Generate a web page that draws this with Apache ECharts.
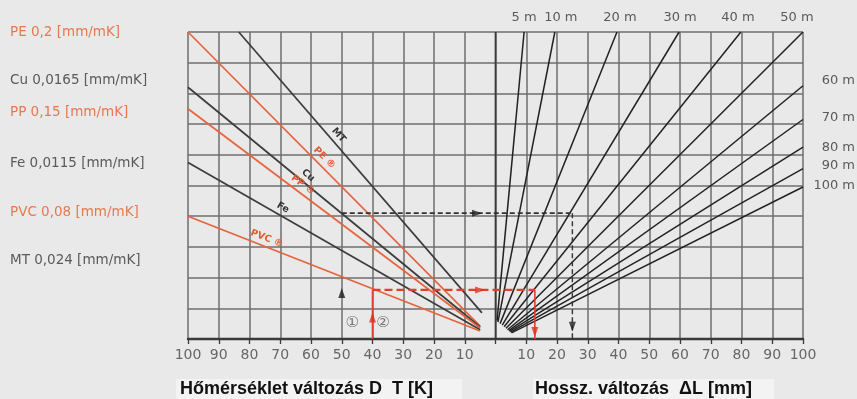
<!DOCTYPE html>
<html>
<head>
<meta charset="utf-8">
<script src="https://cdn.jsdelivr.net/npm/echarts@6/dist/echarts.min.js"></script>
<style>
  html, body { margin: 0; padding: 0; background: #e9e9e9; }
  #chart { width: 857px; height: 399px; }
</style>
</head>
<body>
<div id="chart"></div>
<script>
// Left half: temperature change ΔT (drawn on the negative side of the x axis)
// against elongation per metre of pipe (y, 0..20).
const materialNames   = ['MT', 'PE', 'Cu', 'PP', 'Fe', 'PVC'];
const materialTags    = ['MT', 'PE ®', 'Cu', 'PP ®', 'Fe', 'PVC ®'];
const materialPlastic = [false, true, false, true, false, true];
const materialStart   = [[-83.5, 20], [-100, 20], [-100, 16.4], [-100, 15], [-100, 11.5], [-100, 8]];
const materialEnd     = [[-4.4, 1.7], [-5, 0.84], [-5, 0.78], [-5, 0.72], [-5, 0.6], [-5, 0.52]];
const materialTagAt   = [-53, -57.5, -62.6, -64.2, -70.4, -75.3];

const coefficientTexts   = ['PE 0,2 [mm/mK]', 'Cu 0,0165 [mm/mK]', 'PP 0,15 [mm/mK]', 'Fe 0,0115 [mm/mK]', 'PVC 0,08 [mm/mK]', 'MT 0,024 [mm/mK]'];
const coefficientPlastic = [true, false, true, false, true, false];

// Right half: pipe length lines, elongation per metre -> total length change ΔL [mm]
const lengthNames = ['5 m', '10 m', '20 m', '30 m', '40 m', '50 m', '60 m', '70 m', '80 m', '90 m', '100 m'];
const lengthStart = [[0.5, 1.2], [0.8, 1.1], [1.5, 1.0], [2.2, 0.9], [2.8, 0.8], [3.4, 0.7], [3.9, 0.6], [4.3, 0.55], [4.6, 0.5], [4.9, 0.45], [5.2, 0.4]];
const lengthEnd   = [[9.3, 20], [19.3, 20], [39.5, 20], [59.7, 20], [79.8, 20], [100, 20], [100, 16.5], [100, 14.3], [100, 12.5], [100, 11.1], [100, 9.9]];

// Worked example 1 (Cu, 50 K, 30 m) and example 2 (PVC, 40 K, 40 m)
const example1Path = [[-50, 8.2], [25, 8.2]];
const example1Drop = [[25, 8.2], [25, 0]];
const example2Rise = [[-40, 0], [-40, 3.2]];
const example2Path = [[-40, 3.2], [12.8, 3.2]];
const example2Drop = [[12.8, 3.2], [12.8, 0]];
const example1Arrows = [[-50, 3.0, 0], [-6, 8.2, -90], [25, 0.8, 180]];
const example2Arrows = [[-40, 1.4, 0], [-5, 3.2, -90], [12.8, 0.45, 180]];
const exampleMarks = [['①', -46.6, 1.05], ['②', -36.6, 1.05]];

const axisTitles = ['Hőmérséklet változás D  T [K]', 'Hossz. változás  ΔL [mm]'];

const ORANGE = '#e4643c';
const ORANGE_TEXT = '#e8774f';
const DARK = '#3c3c3c';
const GRID = '#6e6e6e';
const TEXT_GREY = '#5a5a5a';
// small horizontal nudges for the top length labels, vertical for the right ones
const topLabelNudge = [0, 6, 3, 1, -3, -6];
const rightLabelNudge = [-5, -2, 0, -3, -1];

const chart = echarts.init(document.getElementById('chart'), null, { renderer: 'canvas' });

const series = [];

// centre divider (ΔT = 0 / ΔL = 0)
series.push({
  type: 'line', data: [[0, 0], [0, 20]], symbol: 'none', silent: true,
  lineStyle: { color: '#3a3a3a', width: 1.7 }, z: 3
});

materialNames.forEach((name, i) => {
  series.push({
    name: name, type: 'line', symbol: 'none', silent: true,
    data: [materialStart[i], materialEnd[i]],
    lineStyle: { color: materialPlastic[i] ? ORANGE : DARK, width: 1.7 }, z: 4
  });
});

lengthNames.forEach((name, i) => {
  series.push({
    name: name, type: 'line', symbol: 'none', silent: true,
    data: [lengthStart[i], lengthEnd[i]],
    lineStyle: { color: '#222', width: 1.5 }, z: 4
  });
});

// example 1: black dashed
series.push({ type: 'line', symbol: 'none', silent: true, data: example1Path, lineStyle: { color: '#333', width: 1.7, type: [5, 3] }, z: 6 });
series.push({ type: 'line', symbol: 'none', silent: true, data: example1Drop, lineStyle: { color: '#333', width: 1.4, type: [5, 3] }, z: 6 });
// example 2: red
series.push({ type: 'line', symbol: 'none', silent: true, data: example2Rise, lineStyle: { color: '#e0402a', width: 1.6 }, z: 6 });
series.push({ type: 'line', symbol: 'none', silent: true, data: example2Path, lineStyle: { color: '#e0402a', width: 2.2, type: [8, 4] }, z: 6 });
series.push({ type: 'line', symbol: 'none', silent: true, data: example2Drop, lineStyle: { color: '#e0402a', width: 1.6 }, z: 6 });

series.push({
  type: 'scatter', silent: true, symbol: 'triangle', symbolSize: [7, 10],
  data: example1Arrows.map(a => ({ value: [a[0], a[1]], symbolRotate: a[2] })),
  itemStyle: { color: '#1e1e1e' }, z: 7
});
series.push({
  type: 'scatter', silent: true, symbol: 'triangle', symbolSize: [7, 10],
  data: example2Arrows.map(a => ({ value: [a[0], a[1]], symbolRotate: a[2] })),
  itemStyle: { color: '#e0301c' }, z: 7
});

const option = {
  animation: false,
  backgroundColor: '#e9e9e9',
  grid: { left: 188, right: 54, top: 32, bottom: 60, containLabel: false },
  xAxis: {
    type: 'value', min: -100, max: 100, interval: 10,
    axisLine: { show: true, onZero: false, lineStyle: { color: '#3a3a3a', width: 2.4 } },
    axisTick: { show: true, length: 5, lineStyle: { color: '#3a3a3a', width: 1.3 } },
    axisLabel: {
      color: '#666', fontSize: 14, fontFamily: 'DejaVu Sans', margin: 9,
      formatter: v => (v === 0 ? '' : String(Math.abs(v)))
    },
    splitLine: { show: true, lineStyle: { color: GRID, width: 1.5 } }
  },
  yAxis: {
    type: 'value', min: 0, max: 20, interval: 2,
    axisLine: { show: false }, axisTick: { show: false }, axisLabel: { show: false },
    splitLine: { show: true, lineStyle: { color: GRID, width: 1.5 } }
  },
  series: series
};

chart.setOption(option);

// texts placed after layout so they can follow the scales
const graphics = [];
const txt = (x, y, text, fill, font, align, extra) => Object.assign({
  type: 'text', x: x, y: y, silent: true, z: 10,
  style: { text: text, fill: fill, font: font, textAlign: align, textVerticalAlign: 'middle', align: align, verticalAlign: 'middle' }
}, extra || {});

coefficientTexts.forEach((t, i) => {
  graphics.push(txt(10, [32, 80, 112, 163, 212, 260][i], t,
    coefficientPlastic[i] ? ORANGE_TEXT : TEXT_GREY, '13.5px "DejaVu Sans"', 'left'));
});

materialNames.forEach((name, i) => {
  const a = chart.convertToPixel({ gridIndex: 0 }, materialStart[i]);
  const b = chart.convertToPixel({ gridIndex: 0 }, materialEnd[i]);
  const t = (materialTagAt[i] - materialStart[i][0]) / (materialEnd[i][0] - materialStart[i][0]);
  const dx = b[0] - a[0], dy = b[1] - a[1], len = Math.hypot(dx, dy);
  const px = a[0] + t * dx + (dy / len) * 8;
  const py = a[1] + t * dy - (dx / len) * 8;
  graphics.push(txt(px, py, materialTags[i], materialPlastic[i] ? '#e05a30' : '#333',
    'bold 9.5px "DejaVu Sans"', 'center', { rotation: -Math.atan2(dy, dx) }));
});

lengthNames.forEach((name, i) => {
  const p = chart.convertToPixel({ gridIndex: 0 }, lengthEnd[i]);
  if (lengthEnd[i][1] >= 20) {
    graphics.push(txt(p[0] + topLabelNudge[i], 18, name, TEXT_GREY, '13px "DejaVu Sans"', 'center'));
  } else {
    graphics.push(txt(855, p[1] + rightLabelNudge[i - 6], name, TEXT_GREY, '13px "DejaVu Sans"', 'right'));
  }
});

exampleMarks.forEach(m => {
  const p = chart.convertToPixel({ gridIndex: 0 }, [m[1], m[2]]);
  graphics.push(txt(p[0], p[1], m[0], '#777', '15px "DejaVu Sans"', 'center'));
});

// axis titles with their light backing boxes
[[176, 462], [533, 774]].forEach((box, i) => {
  graphics.push({
    type: 'rect', silent: true, z: 1,
    shape: { x: box[0], y: 379, width: box[1] - box[0], height: 20 },
    style: { fill: '#f3f3f3' }
  });
  graphics.push(txt(box[0] + (i === 0 ? 4 : 2), 389, axisTitles[i], '#111',
    'bold 18px "Liberation Sans"', 'left', { z: 2 }));
});

chart.setOption({ graphic: { elements: graphics } });
</script>
</body>
</html>
